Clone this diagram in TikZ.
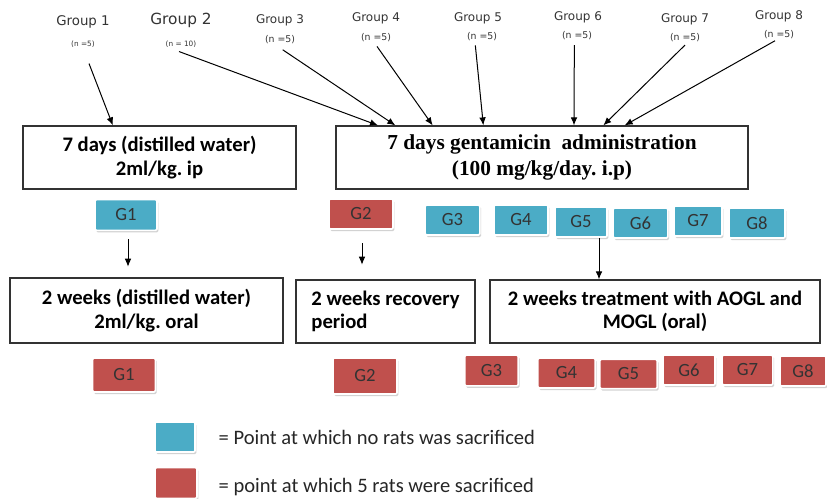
\documentclass[tikz,border=0pt]{standalone}
\usepackage{fontspec}
\setmainfont{Carlito}
\newfontfamily\grpfont{DejaVu Sans}
\newfontfamily\timesfont{Liberation Serif}
\usetikzlibrary{arrows.meta,shadows}
\definecolor{gblue}{HTML}{4BACC6}
\definecolor{gred}{HTML}{C0504D}
\frenchspacing
\tikzset{
  grp/.style={font=\grpfont\fontsize{9}{10}\selectfont, text=black!80, inner sep=1pt},
  nlab/.style={font=\grpfont\fontsize{7}{8}\selectfont, text=black!80, inner sep=1pt},
  txtbox/.style={rectangle, draw=black!80, line width=0.9pt, align=center, font=\bfseries\fontsize{15.5}{17.5}\selectfont},
  gbox/.style={rectangle, draw=white, line width=1.2pt, rounded corners=1pt, inner sep=0pt,
    drop shadow={shadow xshift=1pt, shadow yshift=-1.5pt, fill=black!35},
    font=\fontsize{14}{15}\selectfont, text=black!80},
  bluebox/.style={gbox, fill=gblue},
  redbox/.style={gbox, fill=gred},
  arr/.style={-{Latex[length=6pt,width=5pt]}, line width=0.75pt},
}
\begin{document}
\begin{tikzpicture}[x=0.75pt, y=-0.75pt]
  \useasboundingbox (0,0) rectangle (827,499);
  % group labels
  \node[grp, font=\grpfont\fontsize{10}{11}\selectfont](grp1) at (83,22) {Group 1};
  \node[nlab, font=\grpfont\fontsize{5.5}{6}\selectfont](n1) at (83,44) {(n =5)};
  \node[grp, font=\grpfont\fontsize{11.5}{13}\selectfont](grp2) at (181,20) {Group 2};
  \node[nlab, font=\grpfont\fontsize{5.5}{6}\selectfont](n2) at (181,44) {(n = 10)};
  \node[grp](grp3) at (280,20) {Group 3};
  \node[nlab](n3) at (280,40) {(n =5)};
  \node[grp](grp4) at (376,18) {Group 4};
  \node[nlab](n4) at (376,38) {(n =5)};
  \node[grp](grp5) at (478,18) {Group 5};
  \node[nlab](n5) at (482,37) {(n =5)};
  \node[grp](grp6) at (578,17) {Group 6};
  \node[nlab](n6) at (577,36) {(n =5)};
  \node[grp](grp7) at (685,19) {Group 7};
  \node[nlab](n7) at (685,38) {(n =5)};
  \node[grp](grp8) at (779,16) {Group 8};
  \node[nlab](n8) at (779,35) {(n =5)};

  % first treatment boxes
  \node[txtbox, minimum width=204.75pt, minimum height=47.25pt](dw1) at (159.5,157.5) {7 days (distilled water)\\2ml/kg. ip};
  \node[txtbox, minimum width=309pt, minimum height=47.25pt, font=\timesfont\bfseries\fontsize{16}{19}\selectfont](gent) at (542,157.5) {7 days gentamicin\ \ administration\\(100 mg/kg/day. i.p)};

  \draw[arr] ([xshift=4.5pt, yshift=-11pt]n1.south) -- ([xshift=-35pt]dw1.north);
  \draw[arr] ([xshift=-1.5pt, yshift=-2pt]n2.south) -- ([xshift=-123pt]gent.north);
  \draw[arr] ([xshift=2pt, yshift=-3pt]n3.south) -- ([xshift=-110pt]gent.north);
  \draw[arr] ([xshift=0.75pt, yshift=-2pt]n4.south) -- ([xshift=-82pt]gent.north);
  \draw[arr] ([xshift=-5pt, yshift=-2pt]n5.south) -- ([xshift=-44pt]gent.north);
  \draw[arr] ([xshift=-2pt, yshift=-2.5pt]n6.south) -- ([xshift=24pt]gent.north);
  \draw[arr] ([yshift=-1pt]n7.south) -- ([xshift=46pt]gent.north);
  \draw[arr] ([xshift=-3pt, yshift=0pt]n8.south) -- ([xshift=62pt]gent.north);

  % status after first week
  \node[bluebox, minimum width=46.5pt, minimum height=23pt](g1a) at (126,215) {G1};
  \node[redbox, minimum width=48pt, minimum height=22.5pt](g2a) at (361,214) {G2};
  \node[bluebox, minimum width=41pt, minimum height=22.5pt](g3a) at (452.5,220) {G3};
  \node[bluebox, minimum width=40.5pt, minimum height=22.5pt](g4a) at (521,220) {G4};
  \node[bluebox, minimum width=39pt, minimum height=22.5pt](g5a) at (581,222) {G5};
  \node[bluebox, minimum width=41pt, minimum height=22.5pt](g6a) at (640.5,223) {G6};
  \node[bluebox, minimum width=36pt, minimum height=22.5pt](g7a) at (698,221) {G7};
  \node[bluebox, minimum width=42pt, minimum height=22.5pt](g8a) at (757,223) {G8};

  % second treatment boxes
  \node[txtbox, minimum width=204.75pt, minimum height=48.75pt](dw2) at (146.5,310.5) {2 weeks (distilled water)\\2ml/kg. oral};
  \node[txtbox, minimum width=134.25pt, minimum height=47.25pt, align=left](rec) at (385.5,311.5) {2 weeks recovery\\period};
  \node[txtbox, minimum width=247.5pt, minimum height=47.25pt](treat) at (655,311.5) {2 weeks treatment with AOGL and\\MOGL (oral)};

  \draw[arr, shorten <=6pt, shorten >=8pt] ([xshift=1.5pt]g1a.south) -- ([xshift=1.5pt]g1a.south |- dw2.north);
  \draw[arr, shorten <=10pt, shorten >=11pt] ([xshift=0.75pt]g2a.south) -- ([xshift=0.75pt]g2a.south |- rec.north);
  \draw[arr] ([xshift=13.5pt]g5a.south) -- ([xshift=13.5pt]g5a.south |- treat.north);

  % status after second period
  \node[redbox, minimum width=47pt, minimum height=25.5pt](g1b) at (124,375) {G1};
  \node[redbox, minimum width=48pt, minimum height=27pt](g2b) at (365,376) {G2};
  \node[redbox, minimum width=40pt, minimum height=23pt](g3b) at (491.5,370.5) {G3};
  \node[redbox, minimum width=43pt, minimum height=22.5pt](g4b) at (566.5,373) {G4};
  \node[redbox, minimum width=43pt, minimum height=22pt](g5b) at (628.5,374) {G5};
  \node[redbox, minimum width=39pt, minimum height=22.5pt](g6b) at (689,370) {G6};
  \node[redbox, minimum width=38pt, minimum height=22.5pt](g7b) at (747.5,370) {G7};
  \node[redbox, minimum width=34.5pt, minimum height=22.5pt](g8b) at (803,371) {G8};

  % legend
  \node[bluebox, minimum width=30pt, minimum height=22.5pt](keyb) at (175,437) {};
  \node[anchor=west, font=\fontsize{15.4}{17}\selectfont, text=black!85](keybt) at (214,437) {= Point at which no rats was sacrificed};
  \node[redbox, minimum width=31.5pt, minimum height=23pt](keyr) at (176,483) {};
  \node[anchor=west, font=\fontsize{15.4}{17}\selectfont, text=black!85](keyrt) at (214,487) {= point at which 5 rats were sacrificed};
\end{tikzpicture}
\end{document}
